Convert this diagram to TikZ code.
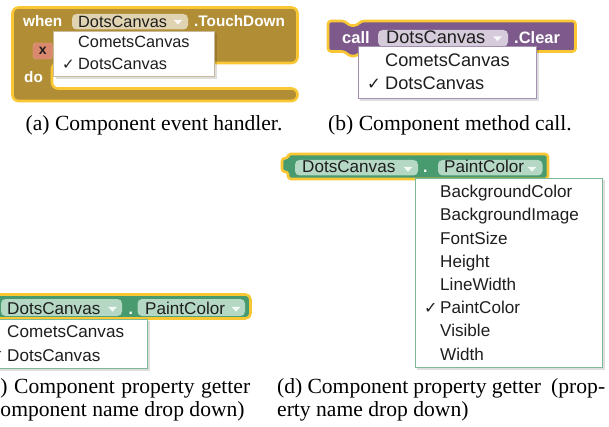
\documentclass[tikz,border=0pt]{standalone}
\usepackage{fontspec}
\setmainfont{Liberation Serif}
\newfontfamily\blkfont{Liberation Sans}
\newfontfamily\chkfont{DejaVu Sans}
\definecolor{hlyellow}{HTML}{F9C734}
\definecolor{brownblk}{HTML}{B18E35}
\definecolor{brownfld}{HTML}{E0D3B1}
\definecolor{brownmenu}{HTML}{C9BB99}
\definecolor{purpleblk}{HTML}{7D5A8B}
\definecolor{purplefld}{HTML}{D6CBDB}
\definecolor{purplemenu}{HTML}{A48FAE}
\definecolor{greenblk}{HTML}{479B6E}
\definecolor{greenfld}{HTML}{B5D8C5}
\definecolor{greenmenu}{HTML}{7DB897}
\definecolor{salmon}{HTML}{D9876D}
\definecolor{txtcol}{HTML}{1E1E1E}
\tikzset{
  lbl/.style={anchor=base west,inner sep=0pt,text=white,font=\blkfont\bfseries\fontsize{#1}{#1}\selectfont},
  txt/.style={anchor=base west,inner sep=0pt,text=txtcol,font=\blkfont\fontsize{#1}{#1}\selectfont},
  chk/.style={anchor=base west,inner sep=0pt,text=txtcol,font=\chkfont\bfseries\fontsize{#1}{#1}\selectfont},
  captext/.style={inner sep=0pt,text=black,font=\fontsize{21.6}{21.6}\selectfont},
  hl/.style={draw=hlyellow,line width=2.6pt,line join=round,fill=#1},
  fieldbox/.style={fill=#1,rounded corners=4.5pt},
  menubox/.style={fill=white,draw=#1,line width=1pt},
  menushadow/.style={fill=black,opacity=0.13},
  ddarrow/.style={fill=white,opacity=0.85}
}
\newcommand\ddtri[2]{\path[ddarrow] (#1-4.5,#2-2.2) -- (#1+4.5,#2-2.2) -- (#1,#2+2.6) -- cycle;}
\begin{document}
\begin{tikzpicture}[x=1pt,y=-1pt]
\useasboundingbox (0,0) rectangle (609,427);
\clip (0,0) rectangle (609,427);

% ---------------- (a) event handler ----------------
\path[hl=brownblk,rounded corners=6pt] (12.5,7.5) -- (297.5,7.5) -- (297.5,63) -- (52,63) -- (52,88.5) -- (297.5,88.5) -- (297.5,101) -- (12.5,101) -- cycle;
\path[fieldbox=brownfld] (72,14) rectangle (188,29.5);
\ddtri{178}{22}
\node[lbl=15.3] (whenA) at (23,27) {when};
\node[txt=16.3] (fldA) at (78,27.5) {DotsCanvas};
\node[lbl=15.3] (touchA) at (194,27) {.TouchDown};
\path[fill=salmon,draw=salmon!80!white,rounded corners=3pt] (33,43) rectangle (52.5,59);
\node[inner sep=0pt,text=txtcol,font=\blkfont\bfseries\fontsize{14}{14}\selectfont] (xA) at (42.8,51) {x};
\node[lbl=15.3] (doA) at (24,83) {do};
\path[menushadow] (55.5,33.5) rectangle (216.5,79.5);
\path[menubox=brownmenu] (53.5,31.5) rectangle (214,77);
\node[txt=16.3] (m1A) at (78,47.5) {CometsCanvas};
\node[chk=15] (ckA) at (62,70) {✓};
\node[txt=16.3] (m2A) at (78,70) {DotsCanvas};
\node[captext,anchor=base] (capA) at (154,131) {(a) Component event handler.};

% ---------------- (b) method call ----------------
\path[hl=purpleblk,rounded corners=3pt] (328,21) -- (345,21) -- (349,25.5) -- (357,25.5) -- (361,21) -- (575.5,21) -- (575.5,51.5) -- (361,51.5) -- (357,56) -- (349,56) -- (345,51.5) -- (328,51.5) -- cycle;
\path[fieldbox=purplefld] (378,30) rectangle (508,46.5);
\ddtri{497.5}{38.5}
\node[lbl=16.5] (callB) at (342,43.5) {call};
\node[txt=18.2] (fldB) at (386,44) {DotsCanvas};
\node[lbl=16.5] (clearB) at (514,43.5) {.Clear};
\path[menushadow] (360,48) rectangle (538.5,101);
\path[menubox=purplemenu] (358,46.5) rectangle (536,98.5);
\node[txt=18.2] (m1B) at (385,67) {CometsCanvas};
\node[chk=16.5] (ckB) at (367,90) {✓};
\node[txt=18.2] (m2B) at (385,90) {DotsCanvas};
\node[captext,anchor=base] (capB) at (450,130.5) {(b) Component method call.};

% ---------------- (c) property getter, component drop down ----------------
\path[hl=greenblk,rounded corners=5pt] (-10,294.5) rectangle (250.5,318.5);
\path[fieldbox=greenfld] (1,299) rectangle (122,316);
\ddtri{112.5}{309}
\path[fieldbox=greenfld] (137.5,299) rectangle (245,316);
\ddtri{236}{309}
\node[txt=17.1] (fld1C) at (7,314) {DotsCanvas};
\node[lbl=16] (dotC) at (128.5,314) {.};
\node[txt=17.1] (fld2C) at (145,314) {PaintColor};
\path[menushadow] (-3,321) rectangle (150,370.5);
\path[menubox=greenmenu] (-5,319) rectangle (147.5,368);
\node[txt=17.1] (m1C) at (7,337.5) {CometsCanvas};
\node[chk=16] (ckC) at (-9.5,361) {✓};
\node[txt=17.1] (m2C) at (7,361) {DotsCanvas};
\node[captext,anchor=base west] (capC1) at (-16.5,393) {\makebox[266.5pt][s]{(c) Component property getter}};
\node[captext,anchor=base west] (capC2) at (-16.5,416.5) {(component name drop down)};

% ---------------- (d) property getter, property drop down ----------------
\path[hl=greenblk,rounded corners=3pt] (288,154) -- (548,154) -- (548,179) -- (288,179) -- (288,171.5) -- (282,172) -- (282,158) -- (288,158.5) -- cycle;
\path[fieldbox=greenfld] (295,160) rectangle (418,175.5);
\ddtri{408}{169}
\path[fieldbox=greenfld] (438,160) rectangle (542.5,175.5);
\ddtri{532}{169}
\node[txt=17.1] (fld1D) at (302,173) {DotsCanvas};
\node[lbl=16] (dotD) at (423,173) {.};
\node[txt=17.1] (fld2D) at (444,173) {PaintColor};
\path[menushadow] (417,180.5) rectangle (605,369.5);
\path[menubox=greenmenu] (415,178.5) rectangle (602.5,367);
\node[txt=17.1] (p1D) at (440,198) {BackgroundColor};
\node[txt=17.1] (p2D) at (440,221) {BackgroundImage};
\node[txt=17.1] (p3D) at (440,244) {FontSize};
\node[txt=17.1] (p4D) at (440,267.5) {Height};
\node[txt=17.1] (p5D) at (440,290.6) {LineWidth};
\node[chk=16] (ckD) at (424,313.7) {✓};
\node[txt=17.1] (p6D) at (440,313.7) {PaintColor};
\node[txt=17.1] (p7D) at (440,336.8) {Visible};
\node[txt=17.1] (p8D) at (440,360) {Width};
\node[captext,anchor=base west] (capD1) at (277,393) {\makebox[328pt][s]{(d) Component property getter\ \ (prop-}};
\node[captext,anchor=base west] (capD2) at (277,416.5) {erty name drop down)};
\end{tikzpicture}
\end{document}
